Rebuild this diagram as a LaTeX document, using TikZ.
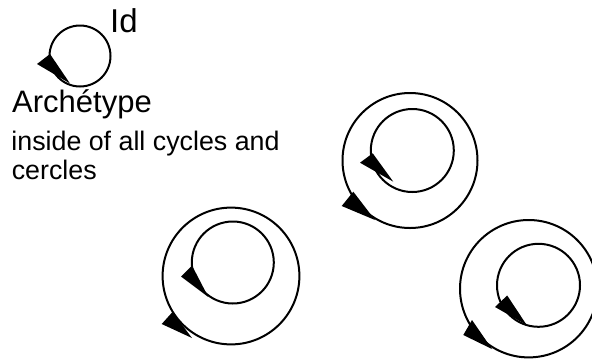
\documentclass[tikz,border=0pt]{standalone}
\usepackage{fontspec}
\setmainfont{Liberation Sans}
\begin{document}
\begin{tikzpicture}[x=1pt,y=-1pt,
  ring/.style={draw=black, line width=2pt},
  head/.style={fill=black},
  lbl/.style={anchor=base west, inner sep=0pt}]
\useasboundingbox[fill=white] (0,0) rectangle (592,360);

% small loop (Id)
\coordinate (c0) at (80,56);
\draw[ring] (c0) circle[radius=30.5pt];
\fill[head] (37,64) -- (50,54) -- (70,83.5) -- cycle;

% group 1
\coordinate (o1) at (410,160.5);
\coordinate (i1) at (412.3,150.5);
\draw[ring] (o1) circle[radius=67.5pt];
\draw[ring] (i1) circle[radius=41.5pt];
\fill[head] (360,162.7) -- (372.7,153.3) -- (393.3,181.7) -- cycle;
\fill[head] (341.7,206) -- (353.3,191.7) -- (375,220) -- cycle;

% group 2
\coordinate (o2) at (231,276);
\coordinate (i2) at (232.8,262.5);
\draw[ring] (o2) circle[radius=68.4pt];
\draw[ring] (i2) circle[radius=41pt];
\fill[head] (181,276.5) -- (192,265.5) -- (208.3,297) -- cycle;
\fill[head] (161.7,324) -- (172.5,312) -- (192,338) -- cycle;

% group 3
\coordinate (o3) at (528.7,288.7);
\coordinate (i3) at (538.5,285.3);
\draw[ring] (o3) circle[radius=68.7pt];
\draw[ring] (i3) circle[radius=41.5pt];
\fill[head] (495,307) -- (507.2,295.5) -- (526.7,325) -- cycle;
\fill[head] (463.3,335) -- (472,320) -- (492,349) -- cycle;

% texts
\node[lbl, font=\fontsize{33}{36}\selectfont] (id) at (110,32) {Id};
\node[lbl, font=\fontsize{31}{34}\selectfont] (arch) at (12,112.3) {Archétype};
\node[lbl, font=\fontsize{26.8}{28.3}\selectfont] (note1) at (11.2,150.7) {inside of all cycles and};
\node[lbl, font=\fontsize{26.8}{28.3}\selectfont] (note2) at (11.6,179) {cercles};
\end{tikzpicture}
\end{document}
